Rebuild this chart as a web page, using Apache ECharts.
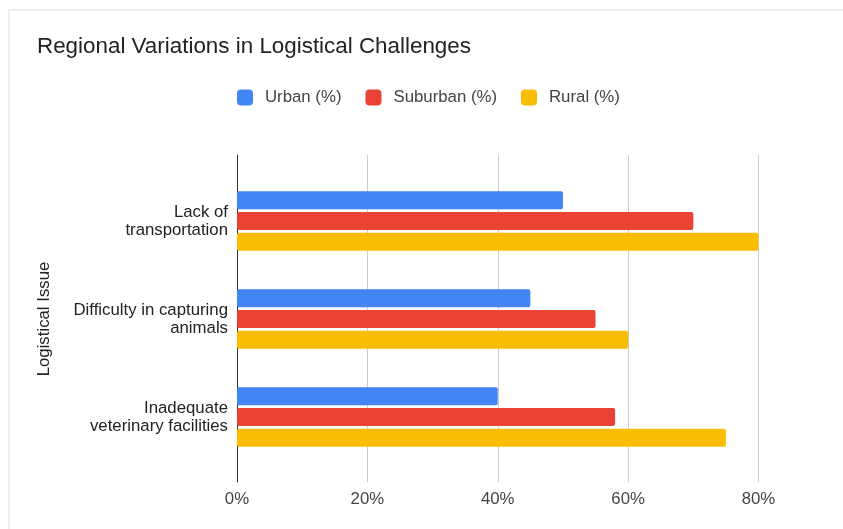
<!DOCTYPE html>
<html>
<head>
<meta charset="utf-8">
<script src="https://cdn.jsdelivr.net/npm/echarts@6/dist/echarts.min.js"></script>
<style>
  html, body { margin: 0; padding: 0; background: #fff; overflow: hidden; }
  #wrap { position: relative; width: 843px; height: 529px; }
  #frame { position: absolute; left: 8px; top: 9px; width: 900px; height: 600px;
           border-left: 2px solid #eeeeee; border-top: 2px solid #eeeeee; box-sizing: border-box; }
  #chart { position: absolute; left: 0; top: 0; width: 843px; height: 529px; }
</style>
</head>
<body>
<div id="wrap">
  <div id="frame"></div>
  <div id="chart"></div>
</div>
<script>
// Logistical issues and the share of each region reporting them
const categories = ['Lack of\ntransportation', 'Difficulty in capturing\nanimals', 'Inadequate\nveterinary facilities'];
const urban = [50, 45, 40];
const suburban = [70, 55, 58];
const rural = [80, 60, 75];
const xTicks = [0, 20, 40, 60, 80];

const FONT = '"Liberation Sans", Arial, sans-serif';
const colors = ['#4285F4', '#EA4335', '#FBBC04'];

const chart = echarts.init(document.getElementById('chart'), null, { renderer: 'canvas' });

const barSeries = (name, data, color) => ({
  name: name,
  type: 'bar',
  xAxisIndex: 1,
  yAxisIndex: 1,
  data: data,
  barWidth: 18,
  barGap: '15%',
  itemStyle: { color: color, borderRadius: 2 },
  emphasis: { disabled: true }
});

chart.setOption({
  animation: false,
  textStyle: { fontFamily: FONT },
  title: {
    text: 'Regional Variations in Logistical Challenges',
    left: 37, top: 36,
    padding: 0,
    textStyle: { fontFamily: FONT, fontSize: 22.4, fontWeight: 'normal', color: '#222' }
  },
  legend: {
    left: 237, top: 89,
    padding: 0,
    itemWidth: 16, itemHeight: 16,
    itemGap: 24,
    icon: 'roundRect',
    textStyle: { fontFamily: FONT, fontSize: 16.8, color: '#444', padding: [0, 0, 0, 7] },
    data: ['Urban (%)', 'Suburban (%)', 'Rural (%)']
  },
  grid: [
    // frame with gridlines and value ticks
    { left: 237, right: 84.5, top: 155, bottom: 47, containLabel: false },
    // band where the bars sit
    { left: 237, right: 84.5, top: 172, bottom: 63, containLabel: false }
  ],
  xAxis: [
    {
      gridIndex: 0, type: 'value', min: xTicks[0], max: xTicks[xTicks.length - 1], interval: 20,
      axisLine: { show: false }, axisTick: { show: false },
      splitLine: { lineStyle: { color: '#cccccc', width: 1 } },
      axisLabel: { formatter: '{value}%', fontFamily: FONT, fontSize: 16.8, color: '#444', margin: 9 }
    },
    {
      gridIndex: 1, type: 'value', min: xTicks[0], max: xTicks[xTicks.length - 1],
      show: false
    }
  ],
  yAxis: [
    {
      gridIndex: 0, type: 'category', data: ['a'],
      axisLine: { show: true, lineStyle: { color: '#333', width: 1 } },
      axisTick: { show: false }, axisLabel: { show: false }, splitLine: { show: false }
    },
    {
      gridIndex: 1, type: 'category', data: categories, inverse: true,
      axisLine: { show: false }, axisTick: { show: false },
      axisLabel: { fontFamily: FONT, fontSize: 16.8, color: '#222', margin: 9, lineHeight: 18, align: 'right' },
      name: 'Logistical Issue', nameLocation: 'middle', nameGap: 184,
      nameTextStyle: { fontFamily: FONT, fontSize: 16.8, color: '#222' }
    }
  ],
  series: [
    barSeries('Urban (%)', urban, colors[0]),
    barSeries('Suburban (%)', suburban, colors[1]),
    barSeries('Rural (%)', rural, colors[2])
  ]
});
</script>
</body>
</html>
